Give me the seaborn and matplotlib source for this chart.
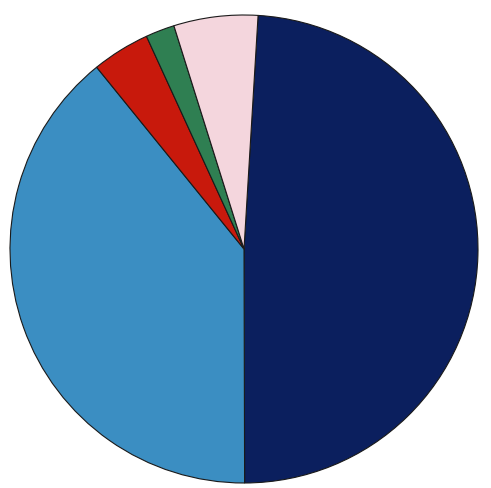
import matplotlib
matplotlib.use("Agg")
import matplotlib.pyplot as plt
import seaborn as sns

sns.set_theme(style="white")

categories = ["Navy", "Light blue", "Red", "Green", "Pink"]
values = [49.0, 39.2, 4.0, 2.0, 5.8]
colors = ["#0b1f5e", "#3b8ec2", "#c8190c", "#2f7f52", "#f4d6dd"]

W, H = 491, 488
fig = plt.figure(figsize=(W / 100, H / 100), dpi=100)
cx, cy, r = 244, 249, 234
ax = fig.add_axes([(cx - r) / W, (H - cy - r) / H, 2 * r / W, 2 * r / H])
ax.pie(values, colors=colors, startangle=86.55, counterclock=False,
       wedgeprops=dict(edgecolor="#1a1a1a", linewidth=0.8))
ax.set_xlim(-1.0, 1.0)
ax.set_ylim(-1.0, 1.0)
ax.set_aspect("auto")
ax.axis("off")
fig.savefig("out.png", dpi=100, facecolor="white")
